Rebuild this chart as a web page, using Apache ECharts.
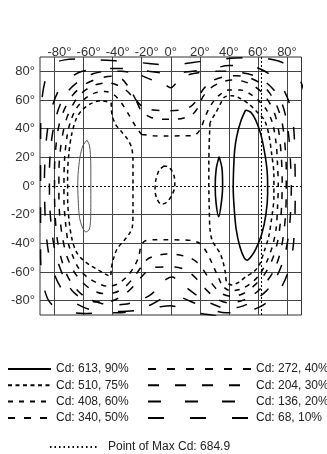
<!DOCTYPE html>
<html>
<head>
<meta charset="utf-8">
<script src="https://cdn.jsdelivr.net/npm/echarts@6/dist/echarts.min.js"></script>
<style>
  html, body { margin: 0; padding: 0; background: #fff; }
  #chart { width: 327px; height: 454px; }
</style>
</head>
<body>
<div id="chart"></div>
<script>
// Axis ticks (degrees)
const xTicks = [-80, -60, -40, -20, 0, 20, 40, 60, 80];
const yTicks = [80, 60, 40, 20, 0, -20, -40, -60, -80];

// Iso-candela levels
const levelNames = [
  'Cd: 613, 90%', 'Cd: 510, 75%', 'Cd: 408, 60%', 'Cd: 340, 50%',
  'Cd: 272, 40%', 'Cd: 204, 30%', 'Cd: 136, 20%', 'Cd: 68, 10%'
];
const maxName = 'Point of Max Cd: 684.9';
const maxPoint = [62, 0];

// 90 % contours [horizontal°, vertical°]
const cd613Right = [[51.5,53],[48.5,46],[45.5,35],[44,25],[43.2,10],[43,-2],[43.7,-16],[45,-30],[47.5,-42],[50.5,-50],[52.5,-51.8],[55.5,-49],[58.5,-44],[62.5,-34],[65.5,-20],[66.7,-5],[66.5,8],[65,21],[62,36],[58.5,46],[55,51.5],[51.5,53]];
const cd613Small = [[33.3,20.5],[31.3,12],[30.6,0],[31.2,-12],[33,-21.4],[34.8,-12],[35.7,0],[35.3,12],[33.3,20.5]];
const cd613Left = [[-57.7,32],[-60.5,28],[-62.5,20],[-63.8,8],[-64,0],[-63.6,-12],[-62.8,-22],[-61,-28.5],[-58.5,-32],[-56.2,-30.5],[-55.2,-24],[-55,-12],[-55,0],[-55,12],[-55.3,22],[-56,28.5],[-57.7,32]];

// 75 % contours
const cd510Left = [[-41,58],[-40.5,50],[-38,43],[-34,38],[-30,33],[-27,27],[-26,18],[-26,0],[-26,-18],[-26.5,-29],[-29,-34],[-33,-39],[-37,-44],[-39.5,-51],[-41,-58],[-41.5,-63],[-44,-62],[-50,-58.5],[-56,-55],[-61,-51],[-65,-46],[-68,-37],[-70,-24],[-71,-8],[-71,8],[-70,24],[-68,37],[-65,47],[-61,53],[-55,57.5],[-48,59.5],[-41,58]];
const cd510Right = [[27,44],[26.5,30],[26.2,15],[26.2,0],[26.5,-15],[27,-30],[28.5,-38],[31.5,-43],[34,-47],[36,-53],[37.5,-60],[38.5,-67],[42,-69],[47,-67],[52,-63],[57,-60],[61,-55],[64.5,-45],[67.5,-35],[69.5,-22],[71,-8],[71,8],[69.5,22],[67.5,36],[64.5,46],[60,51],[54,57],[48,61],[42,63],[37,62],[34,57],[31,51],[28.5,47],[27,44]];
const cd510Center = [[-4.5,14],[-8,11],[-10.3,4],[-10.8,-3],[-9.5,-9],[-6.5,-12.8],[-3,-11.5],[0.5,-7],[2.8,0],[2.5,6],[0.5,11],[-2,13.5],[-4.5,14]];

// 60 % contour
const cd408 = [[-20,36],[-12,35],[-3,34.8],[6,35],[14,35],[18,36.5],[21,41],[24,49],[28,57],[33,63],[40,67],[48,67],[55,64],[61,59],[66,53],[70,44],[72.5,30],[73.5,15],[74,0],[73.5,-15],[72.5,-30],[70,-42],[66,-53],[61,-62],[55,-68],[48,-72],[41,-73],[36,-70],[32,-62],[28,-53],[24,-45],[20,-40],[14,-38],[6,-37.6],[-3,-37.5],[-12,-37.5],[-18,-38.5],[-20.5,-42],[-22,-49],[-25,-56],[-30,-63],[-36,-68],[-43,-70],[-50,-68],[-57,-64],[-63,-58],[-67,-50],[-70.5,-40],[-72.5,-25],[-73.5,-10],[-73.5,5],[-73,20],[-71.5,34],[-69,45],[-65,54],[-59,61],[-52,65],[-45,66],[-39,63.5],[-34,58],[-29,50],[-25,43],[-22,38.5],[-20,36]];

// 50 % contour
const cd340 = [[-23,58],[-20,52],[-14,48],[-6,46.5],[2,46.5],[9,47.5],[15,50],[19,55],[22,62],[27,68],[34,72],[42,74],[50,73],[57,70],[63,65],[68,58],[72,49],[74.5,37],[76,22],[76.7,5],[76.5,-10],[75.5,-25],[73.5,-39],[70,-51],[65,-61],[58,-69],[50,-75],[42,-77],[35,-75],[29,-69],[24,-61],[19,-54],[13,-50],[5,-48],[-3,-47.5],[-10,-48.5],[-16,-51],[-20,-56],[-25,-63],[-31,-70],[-39,-74.5],[-47,-75],[-55,-72],[-62,-66],[-67,-59],[-71.5,-49],[-74.5,-36],[-76.5,-20],[-77,-5],[-77,10],[-76,25],[-74,38],[-71,49],[-66,59],[-60,66],[-52,70.5],[-44,72],[-37,70.5],[-31,67],[-26,62],[-23,58]];

// 40 % contour
const cd272 = [[-24,60],[-19,55],[-12,53],[-3,52.5],[6,53],[13,55],[18,60],[22,67],[28,73],[36,76],[45,77],[54,75.5],[62,71.5],[68,65],[73,56],[76.5,45],[78.5,30],[79.5,12],[79.5,-5],[79,-20],[77.5,-35],[75,-48],[71,-59],[65,-68],[58,-75],[49,-80],[40,-81.5],[32,-79],[25,-73],[18,-65],[11,-59],[3,-56.5],[-5,-56.5],[-12,-57],[-18,-61],[-24,-68],[-31,-75],[-40,-80],[-49,-81],[-58,-78],[-65,-72],[-71,-63],[-75,-52],[-78,-38],[-79.5,-22],[-80,-5],[-80,12],[-79,28],[-77,42],[-73,54],[-67,64],[-59,71],[-50,75],[-41,76.5],[-34,75],[-29,69],[-26,64],[-24,60]];

// 30 % contour
const cd204 = [[-20,77],[-13,74],[-7,71.5],[-3,70],[0,68.5],[3,71],[7,75],[12,77.5],[19,79],[27,80],[36,80],[46,79.5],[56,77.5],[64,73.5],[71,67],[76,59],[79.5,47],[81.5,32],[82.5,15],[83,0],[82.5,-18],[81,-35],[78,-50],[73,-63],[66,-73],[57,-80],[47,-84.5],[37,-85],[28,-82],[19,-77],[11,-71],[5,-66],[1,-63.5],[-3,-65],[-8,-70],[-14,-76],[-22,-80],[-32,-82.5],[-42,-83],[-51,-81],[-60,-79],[-67,-74],[-72.5,-66],[-77,-55],[-80.5,-41],[-82.5,-25],[-83.5,-8],[-83.5,10],[-82.5,28],[-80,44],[-76,57],[-70,67],[-62,74],[-53,78.5],[-43,80],[-34,80],[-26,79],[-20,77]];

// 20 % contour
const cd136 = [[-86.5,-20],[-87,0],[-86.5,20],[-85,38],[-82,54],[-77,67],[-70,75],[-61,80],[-50,81.5],[-38,82],[-26,81.5],[-15,80],[-6,79],[2,79],[10,79.5],[19,80.5],[29,82],[40,84],[52,84],[62,81.5],[70,76.5],[76,70],[80.5,61],[83.5,50],[85,35],[85.5,15],[85.7,0],[85.5,-20],[84.5,-40],[82,-56],[77,-69],[70,-78],[61,-84.5],[50,-88],[38,-88.5],[27,-86],[17,-82],[8,-78],[2,-76.5],[-5,-78],[-14,-83],[-24,-86.5],[-36,-88.5],[-48,-88],[-59,-85],[-68,-80],[-75,-72],[-80,-62],[-83.5,-50],[-85.5,-36],[-86.5,-20]];

// 10 % contour
const cd68 = [[93,62],[89,74],[84,81],[76,86.5],[65,89],[52,89.5],[38,88.8],[25,87.5],[14,86],[5,84.8],[-5,84.5],[-15,85.5],[-26,86.5],[-38,87.3],[-50,88],[-62,88.6],[-73,88],[-81,85],[-86,75],[-88.5,62],[-89.5,45],[-89.6,15],[-89.6,-15],[-89.6,-45],[-89,-62],[-87,-72],[-84,-80],[-78,-86],[-70,-88],[-60,-89],[-48,-88.5],[-36,-87.5],[-24,-87],[-13,-85.5],[-6,-84],[0,-83.5],[6,-85],[14,-87.5],[24,-89.5],[36,-91]];

const FONT = 'Liberation Sans';
const INK = '#000';

// Line styles for each level: solid, then progressively longer dashes
const levelStyles = [
  { type: 'solid', width: 1.6 },
  { type: [4, 3.5], width: 1.5 },
  { type: [5, 6], width: 1.5 },
  { type: [7, 9], width: 1.5 },
  { type: [8, 11], width: 1.5 },
  { type: [11, 16], width: 1.5 },
  { type: [13, 24], width: 1.5 },
  { type: [16, 26], width: 1.5 }
];

const levelPaths = [
  [cd613Right, cd613Small],
  [cd510Left, cd510Right, cd510Center],
  [cd408], [cd340], [cd272], [cd204], [cd136], [cd68]
];

const series = [];

// Grid lines at the labelled ticks (the 0° row is drawn dotted below)
series.push({
  type: 'line', name: 'grid', data: [], silent: true, z: 1,
  markLine: {
    silent: true, z: 1, animation: false,
    symbol: ['none', 'none'],
    label: { show: false },
    lineStyle: { color: '#454545', width: 1, type: 'solid' },
    data: xTicks.map(v => ({ xAxis: v }))
      .concat(yTicks.filter(v => v !== 0).map(v => ({ yAxis: v })))
  }
});

levelPaths.forEach((paths, i) => {
  paths.forEach(path => {
    series.push({
      type: 'line', name: levelNames[i], data: path,
      symbol: 'none', smooth: 0.3, clip: true, silent: true, z: 3,
      itemStyle: { color: INK },
      lineStyle: Object.assign({ color: INK }, levelStyles[i])
    });
  });
});

// Weaker left-hand 90 % island
series.push({
  type: 'line', name: levelNames[0], data: cd613Left,
  symbol: 'none', smooth: 0.3, clip: true, silent: true, z: 3,
  itemStyle: { color: INK },
  lineStyle: { color: '#555', width: 1, type: 'solid' }
});

// Cross-hair through the point of maximum intensity
series.push({
  type: 'line', name: maxName, data: [], silent: true, z: 4,
  symbol: 'none',
  itemStyle: { color: INK },
  lineStyle: { color: INK, width: 1, type: [1.5, 3] },
  markLine: {
    silent: true, z: 4, animation: false,
    symbol: ['none', 'none'],
    label: { show: false },
    lineStyle: { color: INK, width: 1, type: [2, 2] },
    data: [{ xAxis: maxPoint[0] }, { yAxis: maxPoint[1] }]
  }
});

const legendText = { fontFamily: FONT, fontSize: 12, color: '#222', lineHeight: 14 };
const hiddenSymbol = { opacity: 0, borderWidth: 0 };

const option = {
  animation: false,
  backgroundColor: '#fff',
  grid: {
    left: 40, right: 25.5, top: 57, bottom: 139,
    show: true, borderColor: '#333', borderWidth: 1, backgroundColor: 'transparent'
  },
  xAxis: {
    type: 'value', position: 'top', min: -90, max: 90, interval: 10,
    axisLine: { show: false }, axisTick: { show: false }, splitLine: { show: false },
    axisLabel: {
      margin: -2, fontFamily: FONT, fontSize: 13, color: '#333', lineHeight: 13,
      showMinLabel: true, showMaxLabel: true,
      formatter: v => {
        if (!xTicks.includes(v)) return '';
        return v < 0 ? '{n|' + v + '°}' : v + '°';
      },
      rich: { n: { padding: [0, 0, 0, 10], fontFamily: FONT, fontSize: 13, color: '#333', lineHeight: 13 } }
    }
  },
  yAxis: {
    type: 'value', min: -90, max: 90, interval: 10,
    axisLine: { show: false }, axisTick: { show: false }, splitLine: { show: false },
    axisLabel: {
      margin: 5, fontFamily: FONT, fontSize: 13, color: '#333',
      formatter: v => yTicks.includes(v) ? v + '°' : ''
    }
  },
  legend: [
    {
      left: 7, top: 362, padding: 0, orient: 'vertical', selectedMode: false,
      itemWidth: 43, itemHeight: 14, itemGap: 2.3,
      itemStyle: hiddenSymbol,
      textStyle: legendText,
      data: levelNames.slice(0, 4)
    },
    {
      left: 147, top: 362, padding: 0, orient: 'vertical', selectedMode: false,
      itemWidth: 103, itemHeight: 14, itemGap: 2.3,
      itemStyle: hiddenSymbol,
      textStyle: legendText,
      data: levelNames.slice(4)
    },
    {
      left: 49, top: 440, padding: 0, orient: 'vertical', selectedMode: false,
      itemWidth: 49, itemHeight: 14,
      itemStyle: hiddenSymbol,
      textStyle: Object.assign({ padding: [0, 0, 0, 4] }, legendText),
      data: [maxName]
    }
  ],
  series: series
};

const chart = echarts.init(document.getElementById('chart'), null, { renderer: 'canvas' });
chart.setOption(option);
</script>
</body>
</html>
